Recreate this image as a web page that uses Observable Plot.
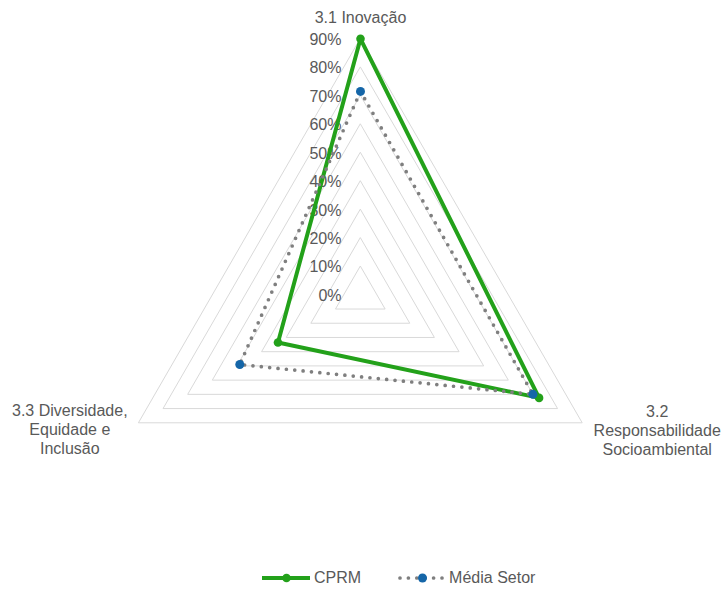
<!DOCTYPE html>
<html>
<head>
<meta charset="utf-8">
<script src="https://cdn.jsdelivr.net/npm/d3@7"></script>
<script src="https://cdn.jsdelivr.net/npm/@observablehq/plot@0.6"></script>
<style>
  body { margin: 0; background: #fff; font-family: "Liberation Sans", Arial, sans-serif; }
  #legend { height: 36px; display: flex; align-items: center; padding-left: 262px; font-size: 16px; color: #595959; }
  #legend .item { display: flex; align-items: center; }
  #legend svg { display: block; }
</style>
</head>
<body>
<div id="chart"></div>
<div id="legend"></div>
<script>
// ---- data ----
const categories = ["3.1 Inovação", "3.2\nResponsabilidade\nSocioambiental", "3.3 Diversidade,\nEquidade e\nInclusão"];
const seriesNames = ["CPRM", "Média Setor"];
const cprmValues = [0.90, 0.725, 0.335];
const mediaSetorValues = [0.715, 0.70, 0.49];
const gridLevels = [0.1, 0.2, 0.3, 0.4, 0.5, 0.6, 0.7, 0.8, 0.9];
const tickValues = [0, 0.1, 0.2, 0.3, 0.4, 0.5, 0.6, 0.7, 0.8, 0.9];
const tickLabels = ["0%", "10%", "20%", "30%", "40%", "50%", "60%", "70%", "80%", "90%"];

// ---- styles / layout ----
const colors = {"CPRM": "#23a11a", "Média Setor": "#7f7f7f"};
const markerColors = {"CPRM": "#23a11a", "Média Setor": "#1566a8"};
const W = 725, H = 560, cx = 360, cy = 294.3, Rpx = 256, vmax = 0.9;
const k = Rpx / vmax;

const n = categories.length;
const ang = i => i * 2 * Math.PI / n;
const px = (r, i) => r * Math.sin(ang(i));
const py = (r, i) => r * Math.cos(ang(i));

const grid = gridLevels.flatMap(level => categories.map((c, i) => ({level, x: px(level, i), y: py(level, i)})));
const valuesBySeries = {"CPRM": cprmValues, "Média Setor": mediaSetorValues};
const rows = seriesNames.flatMap(s => categories.map((c, i) => ({series: s, category: c, value: valuesBySeries[s][i], x: px(valuesBySeries[s][i], i), y: py(valuesBySeries[s][i], i)})));
const catRows = categories.map((c, i) => ({category: c, i, x: px(vmax, i), y: py(vmax, i)}));
const ticks = tickValues.map((v, j) => ({v, label: tickLabels[j]}));

const textFill = "#595959";
const cprm = rows.filter(d => d.series === "CPRM");
const media = rows.filter(d => d.series === "Média Setor");

const chart = Plot.plot({
  width: W, height: H,
  margin: 0,
  x: {domain: [-cx / k, (W - cx) / k], axis: null},
  y: {domain: [-(H - cy) / k, cy / k], axis: null},
  style: {fontFamily: '"Liberation Sans", Arial, sans-serif', fontSize: "16px", background: "#fff"},
  marks: [
    Plot.line(grid, {x: "x", y: "y", z: "level", curve: "linear-closed", stroke: "#d9d9d9", strokeWidth: 1}),
    Plot.text(ticks, {x: 0, y: "v", text: "label", textAnchor: "end", dx: -19, dy: 1, fill: textFill, fontSize: 16}),
    Plot.text(catRows.filter(d => d.i === 0), {x: "x", y: "y", text: "category", dy: -21, fill: textFill, fontSize: 16, lineAnchor: "middle"}),
    Plot.text(catRows.filter(d => d.i === 1), {x: "x", y: "y", text: "category", dx: 75, dy: 7.5, fill: textFill, fontSize: 16, lineAnchor: "middle", lineHeight: 1.18}),
    Plot.text(catRows.filter(d => d.i === 2), {x: "x", y: "y", text: "category", dx: -69, dy: 6, fill: textFill, fontSize: 16, lineAnchor: "middle", lineHeight: 1.2}),
    Plot.line(cprm, {x: "x", y: "y", curve: "linear-closed", stroke: colors["CPRM"], strokeWidth: 4, strokeLinejoin: "round"}),
    Plot.dot(cprm, {x: "x", y: "y", r: 4.3, fill: markerColors["CPRM"]}),
    Plot.line(media, {x: "x", y: "y", curve: "linear-closed", stroke: colors["Média Setor"], strokeWidth: 3.7, strokeDasharray: "0 8.4", strokeLinecap: "round"}),
    Plot.dot(media, {x: "x", y: "y", r: 4.5, fill: markerColors["Média Setor"]})
  ]
});
document.getElementById("chart").append(chart);

// ---- legend ----
const legend = document.getElementById("legend");
seriesNames.forEach((s, j) => {
  const item = document.createElement("div");
  item.className = "item";
  if (j > 0) item.style.marginLeft = "37px";
  const dotted = s === "Média Setor";
  item.innerHTML = `<svg width="48" height="12"><line x1="${dotted ? 2 : 0}" y1="6" x2="${dotted ? 47 : 48}" y2="6" stroke="${colors[s]}" stroke-width="${dotted ? 3.7 : 4}" ${dotted ? 'stroke-dasharray="0 8.4" stroke-linecap="round"' : ''}/><circle cx="24.5" cy="6" r="${dotted ? 4.5 : 4.3}" fill="${markerColors[s]}"/></svg><span style="margin-left:${dotted ? 3 : 4}px">${s}</span>`;
  legend.append(item);
});
</script>
</body>
</html>
